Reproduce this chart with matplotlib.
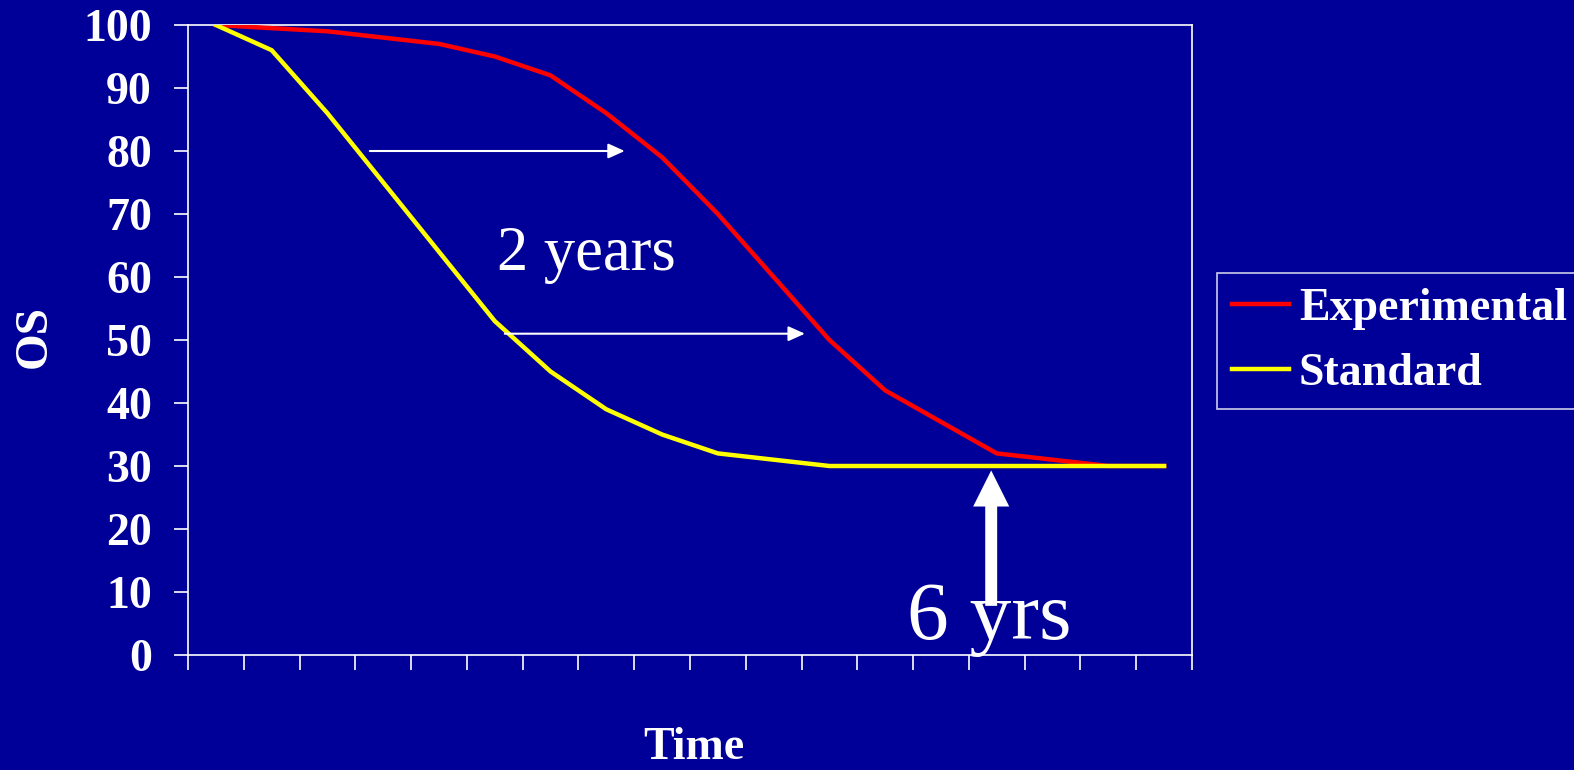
import matplotlib
matplotlib.use("Agg")
import matplotlib.pyplot as plt
import numpy as np

# Data
time_points = list(range(18))
experimental = [100, 99.5, 99, 98, 97, 95, 92, 86, 79, 70, 60, 50, 42, 37, 32, 31, 30, 30]
standard = [100, 96, 86, 75, 64, 53, 45, 39, 35, 32, 31, 30, 30, 30, 30, 30, 30, 30]
y_ticks = [0, 10, 20, 30, 40, 50, 60, 70, 80, 90, 100]
series_names = ["Experimental", "Standard"]

BG = "#000099"
WHITE = "white"
SERIF = ["Liberation Serif", "DejaVu Serif"]

fig = plt.figure(figsize=(15.74, 7.70), dpi=100)
fig.patch.set_facecolor(BG)
ax = fig.add_axes([188/1574, 115/770, 1004/1574, 630/770])
ax.set_facecolor(BG)

ax.plot(time_points, experimental, color="#FF0000", lw=3.2, label=series_names[0],
        solid_joinstyle="miter", zorder=3)
ax.plot(time_points, standard, color="#FFFF00", lw=3.2, label=series_names[1],
        solid_joinstyle="miter", zorder=4)

ax.set_xlim(-0.5, len(time_points) - 0.5)
ax.set_ylim(0, 100)
ax.set_xticks(np.arange(-0.5, len(time_points), 1.0))
ax.set_xticklabels([])
ax.set_yticks(y_ticks)
ax.set_yticklabels([str(v) for v in y_ticks], fontfamily=SERIF, fontweight="bold",
                   fontsize=33, color=WHITE)

for sp in ax.spines.values():
    sp.set_color(WHITE)
    sp.set_linewidth(1.2)
ax.tick_params(axis="y", direction="out", length=10, width=1.2, color=WHITE, pad=16)
ax.tick_params(axis="x", direction="out", length=11, width=1.2, color=WHITE)

ax.set_ylabel("OS", fontfamily=SERIF, fontweight="bold", fontsize=34, color=WHITE)
ax.yaxis.set_label_coords(-0.132, 0.505)
ax.set_xlabel("Time", fontfamily=SERIF, fontweight="bold", fontsize=33, color=WHITE)
ax.xaxis.set_label_coords(0.504, -0.114)

# Annotations
ax.annotate("", xy=(7.33, 80), xytext=(2.76, 80),
            arrowprops=dict(arrowstyle="-|>,head_length=1.0,head_width=0.45",
                            mutation_scale=10, color=WHITE, lw=1.5,
                            shrinkA=0, shrinkB=0), zorder=5)
ax.annotate("", xy=(10.56, 51), xytext=(5.18, 51),
            arrowprops=dict(arrowstyle="-|>,head_length=1.0,head_width=0.45",
                            mutation_scale=10, color=WHITE, lw=1.5,
                            shrinkA=0, shrinkB=0), zorder=5)
ax.text(5.04, 61.1, "2 years", fontfamily=SERIF, fontsize=45, color=WHITE,
        ha="left", va="baseline", zorder=5)

ax.annotate("", xy=(13.9, 29.3), xytext=(13.9, 7.8),
            arrowprops=dict(arrowstyle="simple,head_length=2.6,head_width=2.6,tail_width=0.86",
                            mutation_scale=10, color=WHITE, lw=0,
                            shrinkA=0, shrinkB=0), zorder=6)
ax.text(12.39, 2.5, "6 yrs", fontfamily=SERIF, fontsize=60, color=WHITE,
        ha="left", va="baseline", zorder=5)

leg = ax.legend(loc="upper left", bbox_to_anchor=(1217/1574, 1 - 273/770),
                bbox_transform=fig.transFigure,
                prop={"family": SERIF, "weight": "bold", "size": 33},
                frameon=True, fancybox=False, handlelength=1.25, handletextpad=0.22,
                borderpad=0.32, labelspacing=0.5, borderaxespad=0)
leg.get_frame().set_facecolor(BG)
leg.get_frame().set_edgecolor(WHITE)
leg.get_frame().set_linewidth(1.2)
for t in leg.get_texts():
    t.set_color(WHITE)

fig.savefig("out.png", dpi=100, facecolor=BG)
